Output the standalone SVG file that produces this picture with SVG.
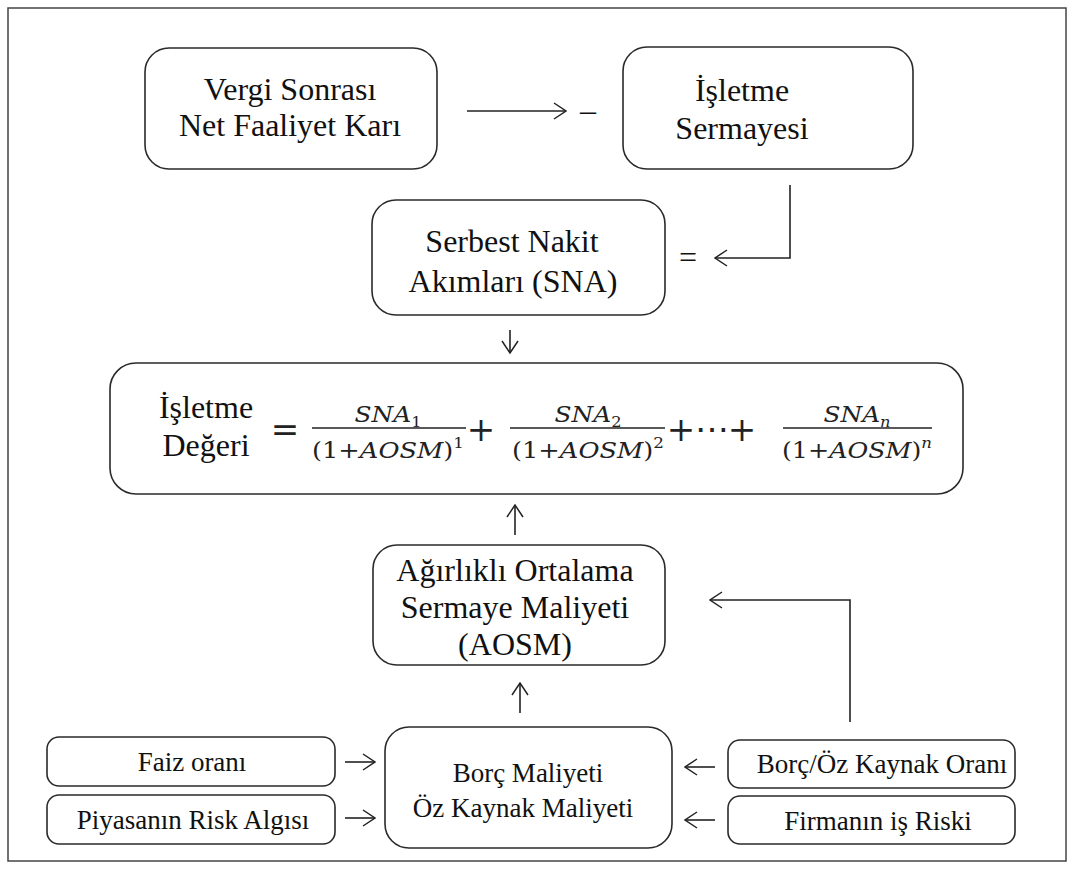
<svg xmlns="http://www.w3.org/2000/svg" width="1075" height="875" viewBox="0 0 1075 875">
<defs>
<style>
.box{fill:#fff;stroke:#2a2a2a;stroke-width:1.6}
.t{font-family:"Liberation Serif","Times New Roman",serif;fill:#111;text-anchor:middle}
.big{font-size:32px}
.sm{font-size:27px}
.m{font-family:"DejaVu Serif",serif;fill:#222;text-anchor:middle;font-size:23px}
.mi{font-style:italic}
.op{font-family:"DejaVu Serif",serif;fill:#222;text-anchor:middle;font-size:34px}
.ln{fill:none;stroke:#222;stroke-width:1.6}
.bar{stroke:#222;stroke-width:1.4}
</style>
<marker id="ah" viewBox="0 0 14 18" refX="13" refY="9" markerWidth="14" markerHeight="18" markerUnits="userSpaceOnUse" orient="auto">
<path d="M1,1 L13,9 L1,17" fill="none" stroke="#222" stroke-width="1.5"/>
</marker>
</defs>
<rect x="0" y="0" width="1075" height="875" fill="#fff"/>
<rect x="8" y="8" width="1058" height="853" fill="none" stroke="#444" stroke-width="1.5"/>

<g id="n-nopat">
<rect class="box" x="145" y="48" width="292" height="121" rx="24"/>
<text class="t big" x="290" y="100">Vergi Sonrası</text>
<text class="t big" x="290" y="136">Net Faaliyet Karı</text>
</g>
<g id="n-isletme-sermayesi">
<rect class="box" x="623" y="47" width="290" height="122" rx="24"/>
<text class="t big" x="742" y="101">İşletme</text>
<text class="t big" x="742" y="139">Sermayesi</text>
</g>
<g id="n-sna">
<rect class="box" x="372" y="200" width="293" height="115" rx="24"/>
<text class="t big" x="512" y="252">Serbest Nakit</text>
<text class="t big" x="513" y="292">Akımları (SNA)</text>
</g>
<g id="n-deger">
<rect class="box" x="110" y="363" width="853" height="131" rx="26"/>
<text class="t big" x="206" y="418">İşletme</text>
<text class="t big" x="206" y="456">Değeri</text>
<text class="op" x="285" y="441">=</text>
<text class="m" x="388" y="422" textLength="67" lengthAdjust="spacingAndGlyphs"><tspan class="mi">SNA</tspan><tspan font-size="15" dy="5">1</tspan></text>
<line class="bar" x1="312" y1="428" x2="466" y2="428"/>
<text class="m" x="388" y="458" textLength="152" lengthAdjust="spacingAndGlyphs">(1+<tspan class="mi">AOSM</tspan>)<tspan font-size="15" dy="-10">1</tspan></text>
<text class="op" x="481" y="441">+</text>
<text class="m" x="588" y="422" textLength="67" lengthAdjust="spacingAndGlyphs"><tspan class="mi">SNA</tspan><tspan font-size="15" dy="5">2</tspan></text>
<line class="bar" x1="510" y1="428" x2="665" y2="428"/>
<text class="m" x="588" y="458" textLength="152" lengthAdjust="spacingAndGlyphs">(1+<tspan class="mi">AOSM</tspan>)<tspan font-size="15" dy="-10">2</tspan></text>
<text class="op" x="681" y="441">+</text>
<text class="op" x="712" y="441" font-size="22">⋯</text>
<text class="op" x="742" y="441">+</text>
<text class="m" x="857" y="422" textLength="67" lengthAdjust="spacingAndGlyphs"><tspan class="mi">SNA</tspan><tspan class="mi" font-size="15" dy="5">n</tspan></text>
<line class="bar" x1="783" y1="428" x2="932" y2="428"/>
<text class="m" x="857" y="458" textLength="150" lengthAdjust="spacingAndGlyphs">(1+<tspan class="mi">AOSM</tspan>)<tspan class="mi" font-size="15" dy="-10">n</tspan></text>
</g>
<g id="n-aosm">
<rect class="box" x="373" y="545" width="292" height="120" rx="24"/>
<text class="t big" x="515" y="581">Ağırlıklı Ortalama</text>
<text class="t big" x="515" y="618">Sermaye Maliyeti</text>
<text class="t big" x="515" y="655">(AOSM)</text>
</g>
<g id="n-maliyet">
<rect class="box" x="385" y="727" width="287" height="121" rx="24"/>
<text class="t sm" x="528" y="782">Borç Maliyeti</text>
<text class="t sm" x="523" y="817">Öz Kaynak Maliyeti</text>
</g>
<g id="n-faiz">
<rect class="box" x="47" y="737" width="288" height="49" rx="12"/>
<text class="t sm" x="192" y="771">Faiz oranı</text>
</g>
<g id="n-piyasa">
<rect class="box" x="47" y="795" width="288" height="49" rx="12"/>
<text class="t sm" x="193" y="829">Piyasanın Risk Algısı</text>
</g>
<g id="n-borcoz">
<rect class="box" x="728" y="740" width="287" height="48" rx="12"/>
<text class="t sm" x="882" y="773">Borç/Öz Kaynak Oranı</text>
</g>
<g id="n-firma">
<rect class="box" x="728" y="796" width="287" height="48" rx="12"/>
<text class="t sm" x="878" y="830">Firmanın iş Riski</text>
</g>

<g id="connectors">
<line class="ln" x1="467" y1="111" x2="566" y2="111" marker-end="url(#ah)"/>
<text class="t big" x="588" y="121">–</text>
<polyline class="ln" points="790,185 790,258 715,258" marker-end="url(#ah)"/>
<text class="t big" x="688" y="268">=</text>
<line class="ln" x1="510" y1="330" x2="510" y2="353" marker-end="url(#ah)"/>
<line class="ln" x1="515" y1="535" x2="515" y2="505" marker-end="url(#ah)"/>
<line class="ln" x1="520" y1="713" x2="520" y2="683" marker-end="url(#ah)"/>
<polyline class="ln" points="850,722 850,600 710,600" marker-end="url(#ah)"/>
<line class="ln" x1="345" y1="762" x2="375" y2="762" marker-end="url(#ah)"/>
<line class="ln" x1="345" y1="818" x2="375" y2="818" marker-end="url(#ah)"/>
<line class="ln" x1="715" y1="767" x2="685" y2="767" marker-end="url(#ah)"/>
<line class="ln" x1="715" y1="820" x2="685" y2="820" marker-end="url(#ah)"/>
</g>
</svg>
